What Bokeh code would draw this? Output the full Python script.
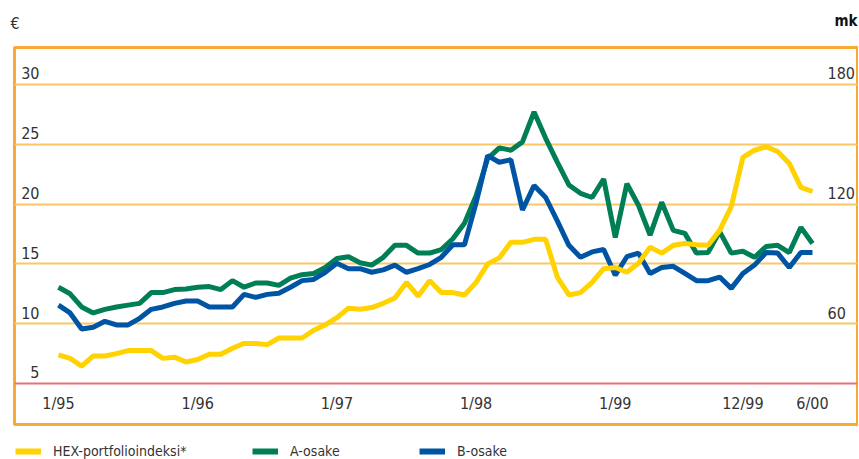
import numpy as np
from bokeh.plotting import figure
from bokeh.layouts import column
from bokeh.models import (ColumnDataSource, Range1d, FixedTicker, Span,
                          Legend, LegendItem)
from bokeh.core.properties import value
from bokeh.embed import file_html
from bokeh.resources import INLINE

# ---------------- data ----------------
months = list(range(66))  # 1/95 .. 6/00, monthly

hex_index = [7.4, 7.1, 6.45, 7.3, 7.3, 7.5, 7.75, 7.75, 7.75, 7.1, 7.2, 6.8,
             7.0, 7.45, 7.45, 7.95, 8.35, 8.35, 8.25, 8.8, 8.8, 8.8, 9.45, 9.9,
             10.5, 11.3, 11.2, 11.35, 11.7, 12.15, 13.45, 12.3, 13.6, 12.6, 12.6, 12.4,
             13.45, 15.0, 15.5, 16.8, 16.8, 17.05, 17.05, 13.9, 12.4, 12.6, 13.45, 14.6,
             14.7, 14.3, 15.05, 16.4, 15.9, 16.55, 16.7, 16.6, 16.55, 17.8, 19.8, 23.9,
             24.5, 24.8, 24.4, 23.4, 21.4, 21.05]

a_share = [13.05, 12.5, 11.4, 10.9, 11.2, 11.4, 11.55, 11.7, 12.6, 12.6, 12.85, 12.9,
           13.05, 13.1, 12.85, 13.6, 13.05, 13.4, 13.4, 13.2, 13.8, 14.1, 14.2, 14.7,
           15.45, 15.6, 15.1, 14.9, 15.55, 16.55, 16.55, 15.9, 15.9, 16.2, 17.1, 18.4,
           20.7, 23.8, 24.7, 24.5, 25.2, 27.7, 25.5, 23.5, 21.6, 20.9, 20.55, 22.1,
           17.2, 21.7, 19.9, 17.4, 20.15, 17.8, 17.55, 15.9, 15.95, 17.7, 15.9, 16.05,
           15.55, 16.45, 16.55, 15.95, 18.05, 16.7]

b_share = [11.55, 10.9, 9.55, 9.7, 10.2, 9.9, 9.9, 10.45, 11.2, 11.4, 11.7, 11.9,
           11.9, 11.4, 11.4, 11.4, 12.45, 12.2, 12.45, 12.55, 13.05, 13.6, 13.7, 14.3,
           15.05, 14.6, 14.6, 14.3, 14.5, 14.9, 14.3, 14.6, 14.95, 15.55, 16.6, 16.6,
           20.1, 24.05, 23.5, 23.7, 19.5, 21.55, 20.55, 18.6, 16.55, 15.55, 16.0, 16.2,
           14.05, 15.6, 15.9, 14.2, 14.7, 14.8, 14.2, 13.6, 13.6, 13.9, 12.95, 14.2,
           14.9, 15.95, 15.9, 14.7, 15.95, 15.95]

x_tick_months = [0, 12, 24, 36, 48, 59, 65]
x_tick_labels = ["1/95", "1/96", "1/97", "1/98", "1/99", "12/99", "6/00"]

eur_ticks = [5, 10, 15, 20, 25, 30]
mk_tick_values = [10, 20, 30]
mk_tick_labels = ["60", "120", "180"]

series_names = ["HEX-portfolioindeksi*", "A-osake", "B-osake"]
unit_left = "€"
unit_right = "mk"

# ---------------- style ----------------
FONT = "'Liberation Sans Narrow', 'DejaVu Sans Condensed', 'Roboto', sans-serif"
TXT = "#333333"
ORANGE = "#F7AC31"
GRID = "#FCC667"
RED = "#E8707A"
YELLOW = "#FFD200"
GREEN = "#007F56"
BLUE = "#0054A4"
W = 858


def strip(height, y_top, y_bottom):
    f = figure(width=W, height=height, output_backend="svg", toolbar_location=None,
               x_range=Range1d(0, W), y_range=Range1d(y_bottom, y_top),
               x_axis_location=None, y_axis_location=None,
               min_border=0, outline_line_color=None, frame_align=False,
               background_fill_color="white", border_fill_color="white")
    f.grid.visible = False
    return f


# ---- top strip with units ----
top = strip(43, 0, 43)
top.text(x=[10], y=[23], text=[unit_left], text_font=value(FONT), text_font_size="16px",
         text_color=TXT, text_align="left", text_baseline="middle")
top.text(x=[857], y=[20], text=[unit_right], text_font=value(FONT), text_font_size="15px",
         text_font_style="bold", text_color="#111111", text_align="right",
         text_baseline="middle")

# ---- main chart ----
x_range = Range1d(-3.79, 68.88)
y_range = Range1d(1.572, 33.09)

p = figure(width=W, height=385, output_backend="svg", toolbar_location=None,
           x_range=x_range, y_range=y_range,
           x_axis_location=None, y_axis_location=None, frame_align=False,
           min_border_left=14, min_border_right=1, min_border_top=4, min_border_bottom=4,
           background_fill_color="white", border_fill_color="white")

p.outline_line_color = ORANGE
p.outline_line_width = 3
p.xgrid.visible = False
p.ygrid.ticker = FixedTicker(ticks=[10, 15, 20, 25, 30])
p.ygrid.grid_line_color = GRID
p.ygrid.grid_line_width = 2

p.add_layout(Span(location=5, dimension="width", line_color=RED, line_width=2))

src = ColumnDataSource(dict(m=months, hex=hex_index, a=a_share, b=b_share))
p.line("m", "a", source=src, line_color=GREEN, line_width=5)
p.line("m", "b", source=src, line_color=BLUE, line_width=5)
p.line("m", "hex", source=src, line_color=YELLOW, line_width=5)

# x tick labels inside the frame
p.text(x=x_tick_months, y=[3.3] * len(x_tick_months), text=x_tick_labels,
       text_font=value(FONT), text_font_size="16px", text_color=TXT,
       text_align="center", text_baseline="middle")

# left € labels
p.text(x=[x_range.start] * len(eur_ticks), y=eur_ticks, text=[str(t) for t in eur_ticks],
       x_offset=25, y_offset=-5,
       text_font=value(FONT), text_font_size="16px", text_color=TXT,
       text_align="right", text_baseline="bottom")

# right mk labels
p.text(x=[x_range.end] * len(mk_tick_values), y=mk_tick_values, text=mk_tick_labels,
       x_offset=-30, y_offset=-5,
       text_font=value(FONT), text_font_size="16px", text_color=TXT,
       text_align="left", text_baseline="bottom")

# ---- bottom strip with legend ----
bot = strip(31, 428, 459)
legend_src = ColumnDataSource(dict(x=np.array([np.nan]), y=np.array([np.nan])))
swatches = [bot.line("x", "y", source=legend_src, line_color=c, line_width=6)
            for c in (YELLOW, GREEN, BLUE)]
for name, rend, lx in zip(series_names, swatches, [15, 252, 419]):
    lg = Legend(items=[LegendItem(label=name, renderers=[rend])], location=(lx, 0),
                orientation="horizontal", padding=0, margin=0, spacing=0,
                glyph_width=26, glyph_height=14, label_height=14, label_standoff=12,
                label_text_font=FONT, label_text_font_size="14px", label_text_color=TXT,
                border_line_alpha=0, background_fill_alpha=0)
    bot.add_layout(lg)

layout = column(top, p, bot, spacing=0)
open("out.html", "w").write(file_html(layout, INLINE))
